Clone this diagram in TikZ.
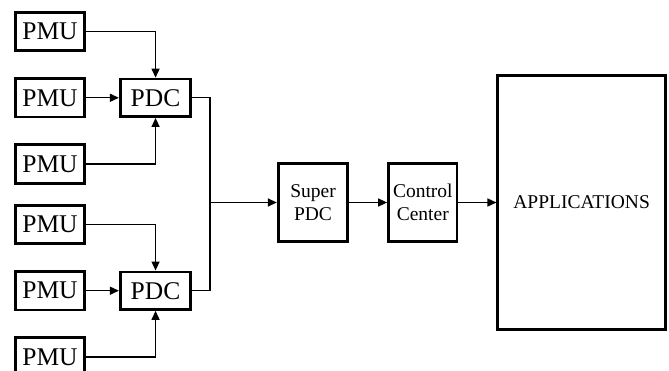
\documentclass[tikz,border=0pt]{standalone}
\usepackage{fontspec}
\setmainfont{Liberation Serif}
\usepackage{tikz}
\usetikzlibrary{arrows.meta, positioning}

\begin{document}
\begin{tikzpicture}[
    x=1pt, y=1pt,
    node distance=25pt,
    every node/.style={font=\rmfamily\fontsize{19.5}{23}\selectfont},
    unit/.style={rectangle, draw, line width=2.8pt, minimum width=69pt, minimum height=38.5pt, inner sep=0pt, font=\rmfamily\fontsize{25.5}{28}\selectfont},
    block/.style={rectangle, draw, line width=2.8pt, minimum width=69.5pt, minimum height=78.5pt, inner sep=0pt, align=center},
    arrow/.style={-{Triangle[length=9pt, width=8pt]}, line width=1.4pt},
    link/.style={line width=1.4pt}
]
\useasboundingbox (0,0) rectangle (669,-371);

% Top group
\node[unit] (pmu1) at (50,-31.5) {PMU};
\node[unit, below=of pmu1] (pmu2) {PMU};
\node[unit, below=of pmu2] (pmu3) {PMU};
\node[unit, right=33pt of pmu2, minimum width=70.5pt, minimum height=37.5pt] (pdc1) {PDC};

% Bottom group
\node[unit, below=19pt of pmu3] (pmu4) {PMU};
\node[unit, below=of pmu4] (pmu5) {PMU};
\node[unit, below=of pmu5] (pmu6) {PMU};
\node[unit, right=33pt of pmu5, minimum width=70.5pt, minimum height=37.5pt] (pdc2) {PDC};

% Main chain
\node[block] (super) at (313,-202.5) {Super\\PDC};
\node[block, right=38pt of super, minimum width=68.5pt] (control) {Control\\Center};
\node[block, right=38pt of control, minimum width=167.5pt, minimum height=254.5pt] (apps) {APPLICATIONS};
\coordinate (join) at (210,-202.5);

% Arrows
\draw[arrow] (pmu1.east) -| (pdc1.north);
\draw[arrow] (pmu2) -- (pdc1);
\draw[arrow] (pmu3.east) -| (pdc1.south);
\draw[arrow] (pmu4.east) -| (pdc2.north);
\draw[arrow] (pmu5) -- (pdc2);
\draw[arrow] (pmu6.east) -| (pdc2.south);
\draw[link] (pdc1.east) -| (join);
\draw[link] (pdc2.east) -| (join);
\draw[arrow] (join) -- (super);
\draw[arrow] (super) -- (control);
\draw[arrow] (control) -- (apps);

\end{tikzpicture}
\end{document}
